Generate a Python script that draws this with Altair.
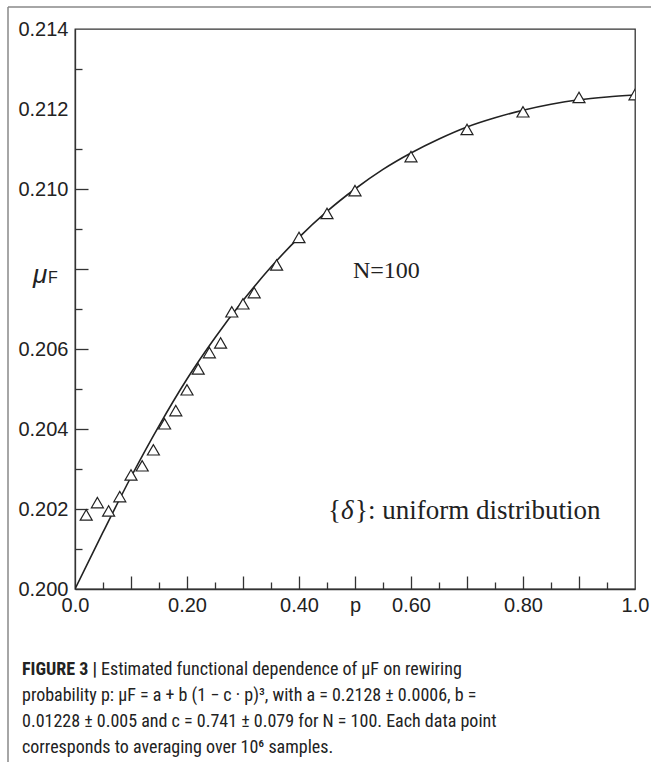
import altair as alt
import pandas as pd

# Mean fitness mu_F measured at each rewiring probability p (N = 100)
p_values = [0.02, 0.04, 0.06, 0.08, 0.10, 0.12, 0.14, 0.16, 0.18, 0.20,
            0.22, 0.24, 0.26, 0.28, 0.30, 0.32, 0.36, 0.40, 0.45, 0.50,
            0.60, 0.70, 0.80, 0.90, 1.00]
mu_values = [0.20185, 0.20216, 0.20195, 0.20231, 0.20285, 0.20308, 0.20348,
             0.20413, 0.20446, 0.20498, 0.20550, 0.20591, 0.20615, 0.20693,
             0.20713, 0.20741, 0.20810, 0.20879, 0.20939, 0.20996, 0.21081,
             0.21149, 0.21193, 0.21229, 0.21236]

# Fitted curve, sampled every 0.05 in p
fit_p = [0.00, 0.05, 0.10, 0.15, 0.20, 0.25, 0.30, 0.35, 0.40, 0.45, 0.50,
         0.55, 0.60, 0.65, 0.70, 0.75, 0.80, 0.85, 0.90, 0.95, 1.00]
fit_mu = [0.20000, 0.20142, 0.20280, 0.20408, 0.20525, 0.20628, 0.20721,
          0.20805, 0.20879, 0.20944, 0.21000, 0.21049, 0.21090, 0.21125,
          0.21155, 0.21178, 0.21197, 0.21212, 0.21223, 0.21230, 0.21235]

# Axis ticks and labels
x_label_values = [0.0, 0.2, 0.4, 0.5, 0.6, 0.8, 1.0]
x_tick_values = [0.05, 0.1, 0.15, 0.2, 0.25, 0.3, 0.35, 0.4, 0.45, 0.5,
                 0.55, 0.6, 0.65, 0.7, 0.75, 0.8, 0.85, 0.9, 0.95]
y_label_values = [0.200, 0.202, 0.204, 0.206, 0.208, 0.210, 0.212, 0.214]
y_tick_values = [0.201, 0.202, 0.203, 0.204, 0.205, 0.206, 0.207, 0.208,
                 0.209, 0.210, 0.211, 0.213]

caption_lines = [
    "Estimated functional dependence of \u03bcF on rewiring",
    "probability p: \u03bcF = a + b (1 \u2212 c \u00b7 p)\u00b3, with a = 0.2128 \u00b1 0.0006, b =",
    "0.01228 \u00b1 0.005 and c = 0.741 \u00b1 0.079 for N = 100. Each data point",
    "corresponds to averaging over 10\u2076 samples.",
]

W = H = 560
INK = "#222222"
SANS = "Liberation Sans, Arial, Helvetica, sans-serif"
NARROW = "Roboto Condensed, DejaVu Sans Condensed, Liberation Sans Narrow, Liberation Sans, sans-serif"
SERIF = "Liberation Serif, Times New Roman, serif"

fit_df = pd.DataFrame({"p": fit_p, "mu": fit_mu})
pts_df = pd.DataFrame({"p": p_values, "mu": mu_values})

x_scale = alt.Scale(domain=[0, 1], nice=False, zero=False)
y_scale = alt.Scale(domain=[0.200, 0.214], nice=False, zero=False)

common = dict(grid=False, title=None, labelFlush=False, labelOverlap=False)

x_label_axis = alt.Axis(
    orient="bottom", values=x_label_values, ticks=False,
    domainColor="#333333", domainWidth=1.3,
    labelExpr="datum.value == 0.5 ? 'p' : (datum.value == 0 || datum.value == 1)"
              " ? format(datum.value, '.1f') : format(datum.value, '.2f')",
    labelFont=SANS, labelFontSize=20, labelColor=INK, labelPadding=6, **common)
x_tick_axis = alt.Axis(
    orient="top", offset=-H, values=x_tick_values, labels=False, domain=False,
    tickColor="#333333", tickWidth=1.3,
    tickSize={"condition": {"test": "round(datum.value * 100) % 10 == 0", "value": 13},
              "value": 7},
    **common)
y_label_axis = alt.Axis(
    orient="left", values=y_label_values, ticks=False,
    domainColor="#333333", domainWidth=1.3,
    labelExpr="abs(datum.value - 0.208) < 1e-6 ? '' : format(datum.value, '.3f')",
    labelFont=SANS, labelFontSize=20, labelColor=INK, labelPadding=7, **common)
y_tick_axis = alt.Axis(
    orient="right", offset=-W, values=y_tick_values, labels=False, domain=False,
    tickColor="#333333", tickWidth=1.3,
    tickSize={"condition": {"test": "round(datum.value * 1000) % 2 == 0", "value": 13},
              "value": 7},
    **common)

curve = alt.Chart(fit_df).mark_line(
    color=INK, strokeWidth=1.6, interpolate="monotone", clip=True
).encode(
    x=alt.X("p:Q", scale=x_scale, axis=x_label_axis),
    y=alt.Y("mu:Q", scale=y_scale, axis=y_label_axis),
)

points = alt.Chart(pts_df).mark_point(
    shape="triangle-up", size=144, filled=True, fill="white", stroke=INK,
    strokeWidth=1.2, opacity=1, clip=True
).encode(
    x=alt.X("p:Q", scale=x_scale, axis=x_tick_axis),
    y=alt.Y("mu:Q", scale=y_scale, axis=y_tick_axis),
)


def note(text, x, y, **style):
    """A single piece of text placed in pixel coordinates of the plot area."""
    return alt.Chart(alt.Data(values=[{}])).mark_text(
        text=text, align="left", baseline="alphabetic", color=INK, **style
    ).encode(x=alt.value(x), y=alt.value(y))


def rule(x, y, x2, y2, **style):
    return alt.Chart(alt.Data(values=[{}])).mark_rule(**style).encode(
        x=alt.value(x), y=alt.value(y), x2=alt.value(x2), y2=alt.value(y2))


frame = [
    rule(-67, -22, -67, 733, color="#888888", strokeWidth=1.5),
    rule(-67, -22, 576, -22, color="#888888", strokeWidth=1.5),
]

annotations = [
    note("N=100", 278, 249, font=SERIF, fontSize=24),
    note("{", 253, 490, font=SERIF, fontSize=27),
    note("\u03b4", 266, 490, font=SERIF, fontSize=27, fontStyle="italic"),
    note("}: uniform distribution", 280, 490, font=SERIF, fontSize=27),
    note("\u03bc", -42, 254, font=SANS, fontSize=26, fontStyle="italic"),
    note("F", -27, 254, font=SANS, fontSize=16),
]

caption = [
    note("FIGURE 3 |", -53, 646, font=NARROW, fontSize=18, fontWeight="bold"),
    note(caption_lines[0], 26, 646, font=NARROW, fontSize=18),
    note(caption_lines[1], -53, 672, font=NARROW, fontSize=18),
    note(caption_lines[2], -53, 698, font=NARROW, fontSize=18),
    note(caption_lines[3], -53, 724, font=NARROW, fontSize=18),
]

chart = alt.layer(
    *frame, curve, points, *annotations, *caption
).resolve_axis(
    x="independent", y="independent"
).properties(
    width=W, height=H,
    autosize=alt.AutoSizeParams(type="none"),
    padding={"left": 75, "top": 29, "right": 16, "bottom": 173},
    background="white",
).configure_view(
    stroke="#333333", strokeWidth=1.3
)

chart.save("out.html", embed_options={"renderer": "svg", "actions": False})
